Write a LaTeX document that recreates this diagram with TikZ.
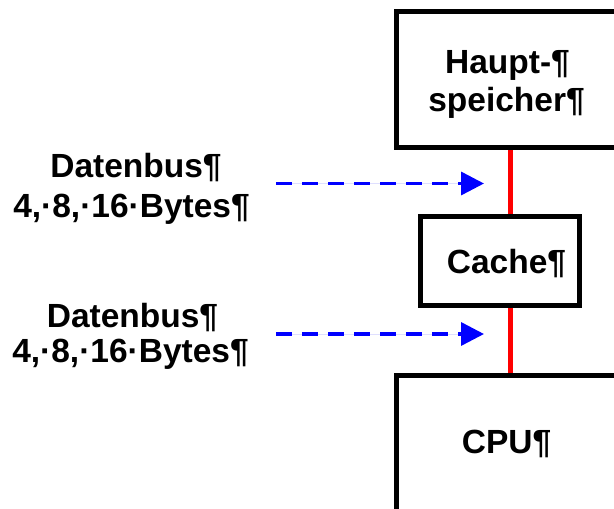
\documentclass[tikz,border=0pt]{standalone}
\usepackage{fontspec}
\setmainfont{Liberation Sans}
\usetikzlibrary{arrows.meta}
\begin{document}
\begin{tikzpicture}[x=1pt,y=-1pt,
  box/.style={draw=black,line width=5pt,inner sep=0pt,fill=white},
  txt/.style={inner sep=0pt,anchor=base,font=\fontsize{33.5}{40}\selectfont\bfseries},
  bus/.style={draw=red,line width=5pt},
  flow/.style={draw=blue,line width=3.5pt,dash pattern=on 15.5pt off 10.5pt,
    -{Triangle[length=23pt,width=23pt]},fill=blue}]
\useasboundingbox (0,0) rectangle (614,509);
\clip (0,0) rectangle (614,509);
\fill[white] (0,0) rectangle (614,509);

% memory hierarchy
\node[box,minimum width=243.5pt,minimum height=136.5pt] (haupt) at (518.25,79.25) {};
\node[box,minimum width=159pt,minimum height=89pt] (cache) at (499.5,260.5) {};
\node[box,minimum width=243.5pt,minimum height=165pt] (cpu) at (518.25,457.5) {};

\node[txt] (haupt1) at (507.5,73) {Haupt-¶};
\node[txt] (haupt2) at (506.5,111) {speicher¶};
\node[txt] (cachet) at (506.5,273) {Cache¶};
\node[txt] (cput) at (506.5,453) {CPU¶};

% red bus lines between the levels
\coordinate (bx) at (510,0);
\draw[bus] (haupt.south -| bx) -- (cache.north -| bx);
\draw[bus] (cache.south -| bx) -- (cpu.north -| bx);

% data bus labels
\node[txt] (db1a) at (136,177.5) {Datenbus¶};
\node[txt] (db1b) at (131.5,217.5) {4,·8,·16·Bytes¶};
\node[txt] (db2a) at (132.5,327.5) {Datenbus¶};
\node[txt] (db2b) at (130.5,362.5) {4,·8,·16·Bytes¶};

% dashed arrows
\coordinate (a1s) at (276,183.5);
\coordinate (a1e) at (484,183.5);
\coordinate (a2s) at (276,334);
\coordinate (a2e) at (484,334);
\draw[flow] (a1s) -- (a1e);
\draw[flow] (a2s) -- (a2e);
\end{tikzpicture}
\end{document}
